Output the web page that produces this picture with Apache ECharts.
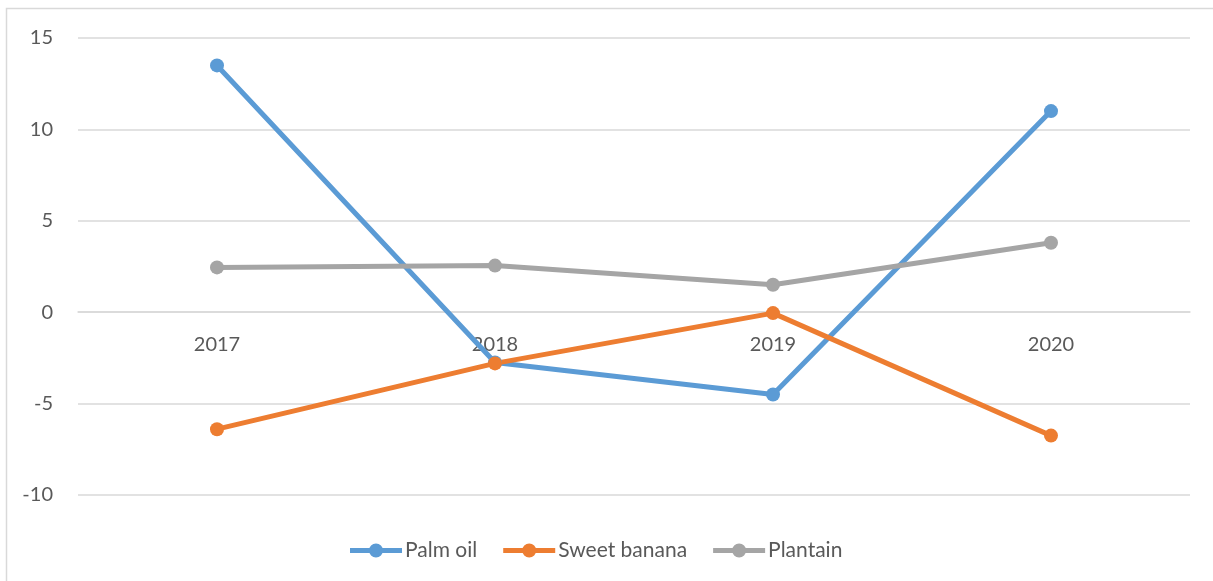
<!DOCTYPE html>
<html lang="en">
<head>
  <meta charset="UTF-8">
  <title>Palm oil, sweet banana, plantain</title>
  <style>
    html, body { margin: 0; padding: 0; background: #fff; }
  </style>
</head>
<body>
  <div id="main" style="width: 1213px;height:581px;"></div>

  <script src="https://cdn.jsdelivr.net/npm/echarts@6/dist/echarts.min.js"></script>
  <script>
    let years = ['2017', '2018', '2019', '2020'];
    let palmOil = [13.5, -2.75, -4.5, 11.0];
    let sweetBanana = [-6.4, -2.8, -0.05, -6.75];
    let plantain = [2.45, 2.55, 1.5, 3.8];

    let ColorLib = ['#5B9BD5', '#ED7D31', '#A5A5A5'];
    let textFont = 'Lato, "Open Sans", sans-serif';
    let textColor = '#595959';

    let yMin = -10, yMax = 15;
    let gridTop = 38, gridBottom = 86, chartHeight = 581;
    // distance from the bottom of the grid up to the zero line
    let zeroOffset = (chartHeight - gridTop - gridBottom) * (0 - yMin) / (yMax - yMin);

    // thick line with a dot in the middle, like the excel legend
    let legendIcon = 'path://M0,4.5 L20,4.5 L20,9.5 L0,9.5 Z ' +
      'M32,4.5 L52,4.5 L52,9.5 L32,9.5 Z ' +
      'M33,7 A7,7 0 1,1 19,7 A7,7 0 1,1 33,7 Z';

    let makeLine = (name, data) => ({
      type: 'line',
      name: name,
      data: data,
      symbol: 'circle',
      symbolSize: 14,
      lineStyle: { width: 5 },
      emphasis: { disabled: true },
      animation: false
    });

    let chart = echarts.init(document.getElementById('main'));
    let option = {
      color: ColorLib,
      textStyle: { fontFamily: textFont },
      graphic: [{
        type: 'rect',
        shape: { x: 6.5, y: 8.5, width: 1300, height: 700 },
        style: { fill: null, stroke: '#d9d9d9', lineWidth: 1.5 },
        silent: true
      }],
      grid: {
        left: 78,
        right: 23,
        top: gridTop,
        bottom: gridBottom
      },
      legend: {
        top: 535,
        left: 345,
        itemWidth: 52,
        itemHeight: 14,
        itemGap: 26,
        icon: legendIcon,
        textStyle: { fontSize: 21, color: textColor, fontFamily: textFont, padding: [0, 0, 0, -2] },
        data: ['Palm oil', 'Sweet banana', 'Plantain']
      },
      xAxis: {
        type: 'category',
        data: years,
        boundaryGap: true,
        offset: -zeroOffset,
        axisLine: { onZero: false, lineStyle: { color: '#d9d9d9', width: 1.5 } },
        axisTick: { show: false },
        axisLabel: { fontSize: 20, color: textColor, margin: 22 }
      },
      yAxis: {
        type: 'value',
        min: yMin,
        max: yMax,
        interval: 5,
        axisLine: { show: false },
        axisTick: { show: false },
        axisLabel: { fontSize: 20, color: textColor, margin: 25 },
        splitLine: { lineStyle: { color: '#d9d9d9', width: 1.5 } }
      },
      series: [
        makeLine('Palm oil', palmOil),
        makeLine('Sweet banana', sweetBanana),
        makeLine('Plantain', plantain)
      ]
    };
    chart.setOption(option);
  </script>
</body>
</html>
